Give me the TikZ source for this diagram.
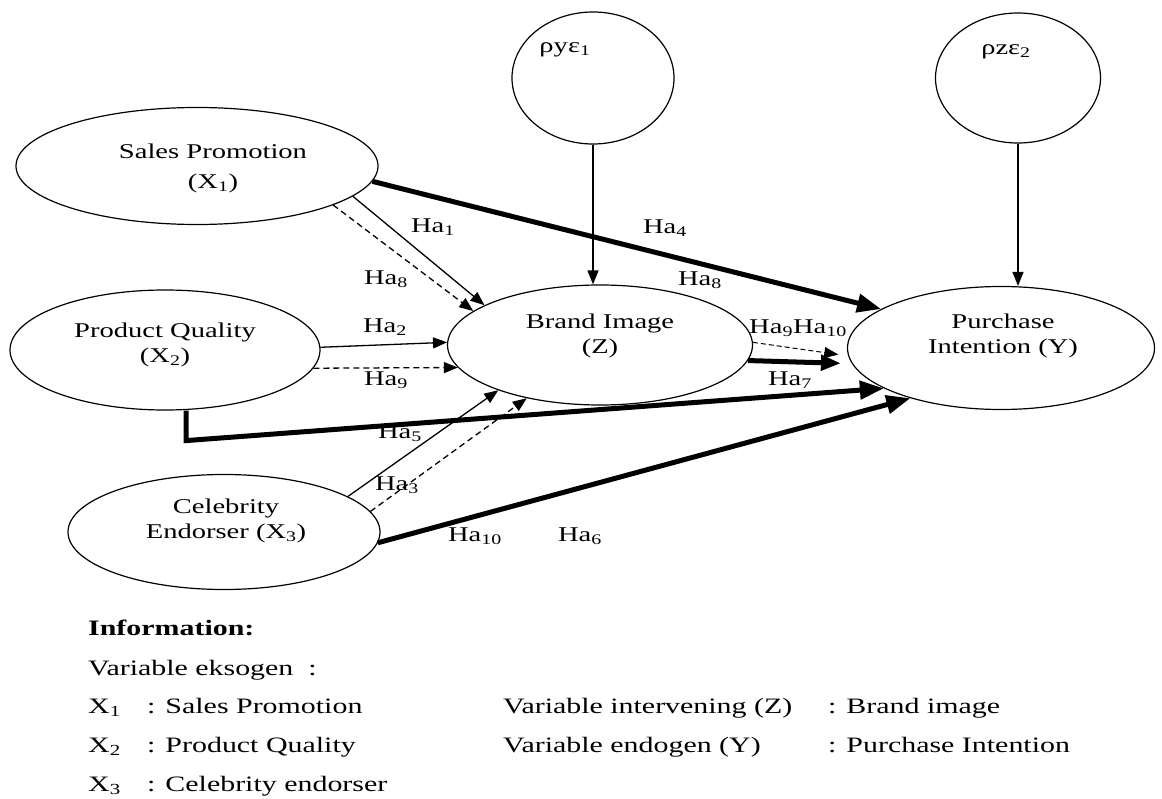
\documentclass[tikz,border=0pt]{standalone}
\usepackage{fontspec}
\setmainfont{Liberation Serif}[FakeStretch=1.36]
\usetikzlibrary{shapes.geometric,arrows.meta}
\newcommand{\sbs}[1]{\textsubscript{#1}}
\begin{document}
\begin{tikzpicture}[x=1pt,y=-1pt,
  ell/.style={draw, ellipse, line width=1.2pt, inner sep=0pt},
  txt/.style={font=\fontsize{21}{25}\selectfont, align=center, inner sep=0pt},
  lbl/.style={font=\fontsize{21}{25}\selectfont, inner sep=0pt},
  arrthin/.style={line width=1.3pt, -{Triangle[length=14pt,width=11pt]}},
  arrdash/.style={arrthin, dash pattern=on 6pt off 4pt},
  arrthick/.style={line width=5pt, -{Triangle[length=24pt,width=18pt]}},
  leg/.style={font=\fontsize{22}{26}\selectfont, anchor=base west, inner sep=0pt}]
\useasboundingbox (0,0) rectangle (1162,799);

% ellipses
\node[ell, minimum width=362pt, minimum height=117pt] (x1) at (197,166) {};
\node[ell, minimum width=310pt, minimum height=120pt] (x2) at (165,350) {};
\node[ell, minimum width=312pt, minimum height=115pt] (x3) at (224,532) {};
\node[ell, minimum width=305pt, minimum height=120pt] (z) at (600,345) {};
\node[ell, minimum width=307pt, minimum height=123pt] (y) at (1001,348) {};
\node[ell, minimum width=162pt, minimum height=132pt] (ry) at (593,78) {};
\node[ell, minimum width=165pt, minimum height=130pt] (rz) at (1018,78) {};

% texts
\node[txt, font=\fontsize{21}{30}\selectfont] (tx1) at (213,168) {Sales Promotion\\(X\sbs{1})};
\node[txt] (tx2) at (165,345) {Product Quality\\(X\sbs{2})};
\node[txt] (tx3) at (226,521) {Celebrity\\Endorser (X\sbs{3})};
\node[txt] (tz) at (600,336) {Brand Image\\(Z)};
\node[txt] (ty) at (1003,336) {Purchase\\Intention (Y)};
\node[txt] (try) at (565,50) {ρyε\sbs{1}};
\node[txt] (trz) at (1006,52) {ρzε\sbs{2}};

% connectors
\draw[arrthick] (x1.-5.4) -- (y.162);
\draw[arrthin] (x1.-11.7) -- (z.161.6);
\draw[arrdash] (x1.-16.9) -- (z.165.2);
\draw[arrthin] (ry.south) -- (ry.south |- z.north);
\draw[arrthin] (rz.south) -- (rz.south |- y.north);
\draw[arrthin] (x2.1) -- (z.179);
\draw[arrdash] (x2.-7.4) -- (z.189.8);
\draw[arrthick] ([xshift=21pt]x2.south) -- ++(0,30) -- (y.199);
\draw[arrthin] (x3.16.4) -- (z.204.4);
\draw[arrdash] (x3.8.6) -- (z.216.1);
\draw[arrthick] (x3.-4.8) -- (y.209.5);
\draw[arrthin, line width=1pt, dash pattern=on 5pt off 3pt, shorten >=10pt] (z.1.5) -- (y.183);
\draw[line width=5pt, -{Triangle[length=20pt,width=15pt]}, shorten >=11pt] (z.-6) -- (y.-174);

% labels
\node[lbl] (h1) at (433,227) {Ha\sbs{1}};
\node[lbl] (h8a) at (386,279) {Ha\sbs{8}};
\node[lbl] (h4) at (665,228) {Ha\sbs{4}};
\node[lbl] (h8b) at (700,280) {Ha\sbs{8}};
\node[lbl] (h2) at (385,327) {Ha\sbs{2}};
\node[lbl] (h9) at (386,380) {Ha\sbs{9}};
\node[lbl] (h910) at (798,328) {Ha\sbs{9}Ha\sbs{10}};
\node[lbl] (h7) at (790,380) {Ha\sbs{7}};
\node[lbl] (h5) at (400,433) {Ha\sbs{5}};
\node[lbl] (h3) at (397,485) {Ha\sbs{3}};
\node[lbl] (h10) at (475,536) {Ha\sbs{10}};
\node[lbl] (h6) at (580,536) {Ha\sbs{6}};

% legend
\node[leg, font=\fontsize{22}{26}\selectfont\bfseries] (info) at (88,635) {Information:};
\node[leg] (veks) at (88,675) {Variable eksogen\ \ :};
\node[leg] (l1a) at (88,713) {X\sbs{1}};
\node[leg] (l1b) at (147,713) {: Sales Promotion};
\node[leg] (l2a) at (88,752) {X\sbs{2}};
\node[leg] (l2b) at (147,752) {: Product Quality};
\node[leg] (l3a) at (88,791) {X\sbs{3}};
\node[leg] (l3b) at (147,791) {: Celebrity endorser};
\node[leg] (r1a) at (503,713) {Variable intervening (Z)};
\node[leg] (r1b) at (828,713) {: Brand image};
\node[leg] (r2a) at (503,752) {Variable endogen (Y)};
\node[leg] (r2b) at (828,752) {: Purchase Intention};
\end{tikzpicture}
\end{document}
